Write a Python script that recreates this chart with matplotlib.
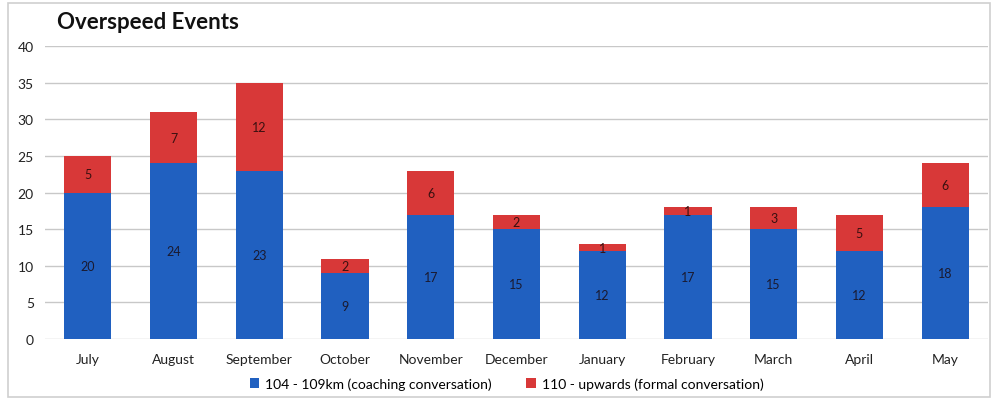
import matplotlib
matplotlib.use("Agg")
import matplotlib.pyplot as plt
from matplotlib.patches import Rectangle
import numpy as np

months = ["July", "August", "September", "October", "November", "December",
          "January", "February", "March", "April", "May"]
coaching = [20, 24, 23, 9, 17, 15, 12, 17, 15, 12, 18]
formal = [5, 7, 12, 2, 6, 2, 1, 1, 3, 5, 6]
series_names = ["104 - 109km (coaching conversation)", "110 - upwards (formal conversation)"]
yticks = [0, 5, 10, 15, 20, 25, 30, 35, 40]

plt.rcParams['font.family'] = ['Lato', 'DejaVu Sans']

fig = plt.figure(figsize=(9.99, 4.02), dpi=100)
ax = fig.add_axes([0.045, 0.154, 0.944, 0.729])

blue = "#2060c0"
red = "#d83838"
x = np.arange(len(months))
w = 0.55
b1 = ax.bar(x, coaching, w, color=blue, label=series_names[0], zorder=3)
b2 = ax.bar(x, formal, w, bottom=coaching, color=red, label=series_names[1], zorder=3)

for i in range(len(months)):
    ax.text(x[i], coaching[i] / 2, str(coaching[i]), ha='center', va='center',
            fontsize=9, color="#1a1a30", zorder=4)
    ax.text(x[i], coaching[i] + formal[i] / 2, str(formal[i]), ha='center', va='center',
            fontsize=9, color="#3a1010", zorder=4)

ax.set_xlim(-0.5, len(months) - 0.5)
ax.set_ylim(0, 40)
ax.set_yticks(yticks)
ax.set_xticks(x)
ax.set_xticklabels(months, fontsize=10)
ax.tick_params(axis='both', length=0, labelsize=10, colors="#222222")
ax.tick_params(axis='x', pad=10)
ax.tick_params(axis='y', pad=8)
ax.yaxis.grid(True, color="#c8c8c8", linewidth=1.0, zorder=0)
for s in ax.spines.values():
    s.set_visible(False)

fig.text(0.057, 0.945, "Overspeed Events", fontsize=16, fontweight='bold',
         ha='left', va='center', color="#111111")

fig.legend(handles=[b1, b2], labels=series_names, loc='center',
           bbox_to_anchor=(0.507, 0.043), ncol=2, frameon=False, fontsize=10,
           handlelength=0.7, handleheight=0.7, handletextpad=0.4, columnspacing=2.5)

fig.patches.append(Rectangle((0.008, 0.01), 0.983, 0.98, transform=fig.transFigure,
                             fill=False, edgecolor="#cfcfcf", linewidth=1.2))

fig.savefig("out.png", dpi=100)
